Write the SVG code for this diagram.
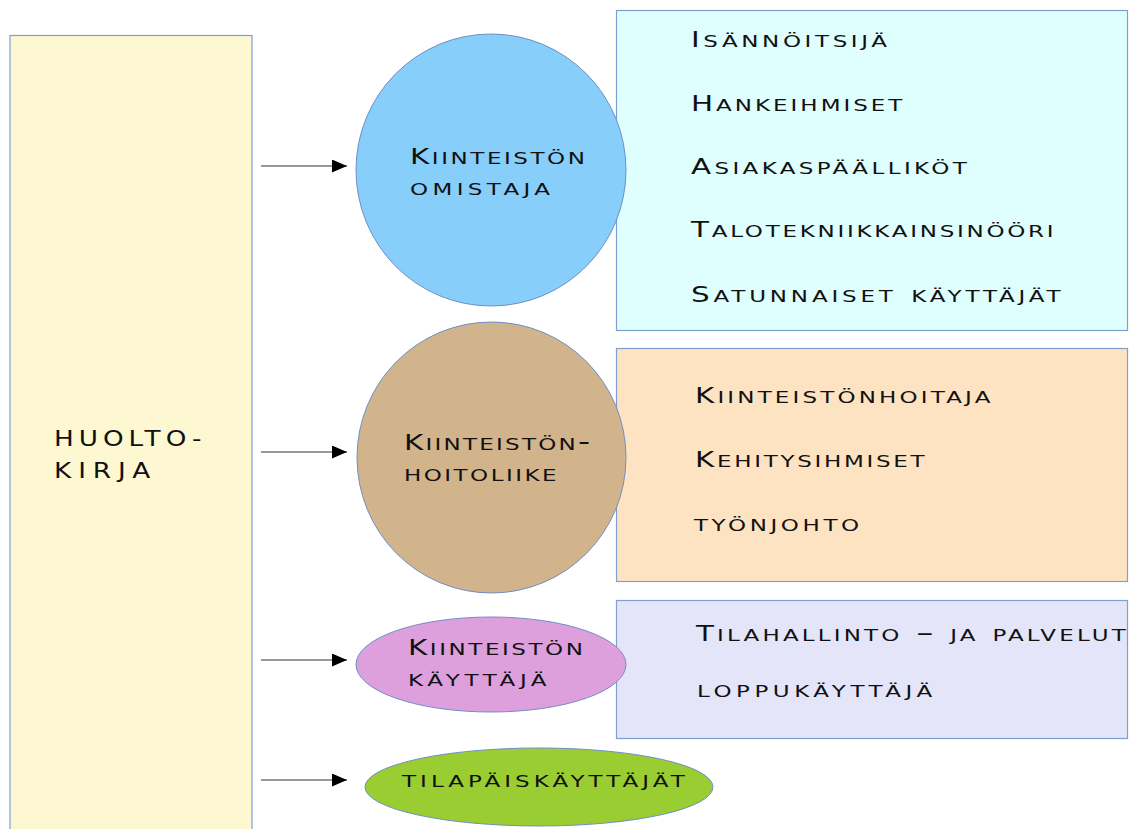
<svg xmlns="http://www.w3.org/2000/svg" width="1129" height="829" viewBox="0 0 1129 829">
<style>
text{font-family:"DejaVu Sans","Liberation Sans",sans-serif;font-size:24px;font-variant:small-caps;fill:#111;}
.c{font-size:21px;}
.box{stroke:#7f9fd0;stroke-width:1.2;}
.node{stroke:#6f8fc4;stroke-width:1;}
.conn{stroke:#333;stroke-width:1.2;fill:none;marker-end:url(#arr);}
</style>
<defs>
<marker id="arr" markerUnits="userSpaceOnUse" markerWidth="16" markerHeight="14" refX="15" refY="6.5" orient="auto">
<path d="M0,0 L15,6.5 L0,13 z" fill="#000"/>
</marker>
</defs>
<rect width="1129" height="829" fill="#fff"/>
<g id="huoltokirja">
<rect class="box" x="10" y="35.5" width="242" height="800" fill="#fdf8d1"/>
<text class="c" transform="translate(54,446) scale(1.25,1)" textLength="118" lengthAdjust="spacing">HUOLTO-</text>
<text class="c" transform="translate(54,478) scale(1.25,1)" textLength="77" lengthAdjust="spacing">KIRJA</text>
</g>
<g id="omistaja-list">
<rect class="box" x="616.5" y="10.5" width="511" height="320" fill="#dffefe"/>
<text transform="translate(691,47) scale(1.4,1)" textLength="140" lengthAdjust="spacing"><tspan class="c">I</tspan>sännöitsijä</text>
<text transform="translate(691,111) scale(1.4,1)" textLength="151" lengthAdjust="spacing"><tspan class="c">H</tspan>ankeihmiset</text>
<text transform="translate(691,174) scale(1.4,1)" textLength="197" lengthAdjust="spacing"><tspan class="c">A</tspan>siakaspäälliköt</text>
<text transform="translate(691,237) scale(1.4,1)" textLength="259" lengthAdjust="spacing"><tspan class="c">T</tspan>alotekniikkainsinööri</text>
<text transform="translate(691,302) scale(1.4,1)" textLength="264" lengthAdjust="spacing"><tspan class="c">S</tspan>atunnaiset käyttäjät</text>
</g>
<g id="hoitoliike-list">
<rect class="box" x="616.5" y="348.5" width="511" height="233" fill="#fee3c3"/>
<text transform="translate(695,403) scale(1.4,1)" textLength="211" lengthAdjust="spacing"><tspan class="c">K</tspan>iinteistönhoitaja</text>
<text transform="translate(695,467) scale(1.4,1)" textLength="164" lengthAdjust="spacing"><tspan class="c">K</tspan>ehitysihmiset</text>
<text transform="translate(694,531) scale(1.4,1)" textLength="118" lengthAdjust="spacing">työnjohto</text>
</g>
<g id="kayttaja-list">
<rect class="box" x="616.5" y="600.5" width="511" height="138" fill="#e5e5f9"/>
<text transform="translate(696,641) scale(1.4,1)" textLength="307" lengthAdjust="spacing"><tspan class="c">T</tspan>ilahallinto – ja palvelut</text>
<text transform="translate(697,697) scale(1.4,1)" textLength="168" lengthAdjust="spacing">loppukäyttäjä</text>
</g>
<g id="omistaja">
<ellipse class="node" cx="491" cy="170" rx="135" ry="136" fill="#87cefa"/>
<text transform="translate(410,164) scale(1.4,1)" textLength="125" lengthAdjust="spacing"><tspan class="c">K</tspan>iinteistön</text>
<text transform="translate(410,195) scale(1.4,1)" textLength="100" lengthAdjust="spacing">omistaja</text>
</g>
<g id="hoitoliike">
<ellipse class="node" cx="491.5" cy="457.5" rx="134.5" ry="135.5" fill="#d2b48c"/>
<text transform="translate(404,450) scale(1.4,1)" textLength="133" lengthAdjust="spacing"><tspan class="c">K</tspan>iinteistön-</text>
<text transform="translate(404,481) scale(1.4,1)" textLength="109" lengthAdjust="spacing">hoitoliike</text>
</g>
<g id="kayttaja">
<ellipse class="node" cx="491" cy="664.5" rx="135" ry="47.5" fill="#dda0dd"/>
<text transform="translate(408,655) scale(1.4,1)" textLength="125" lengthAdjust="spacing"><tspan class="c">K</tspan>iinteistön</text>
<text transform="translate(408,686) scale(1.4,1)" textLength="99" lengthAdjust="spacing">käyttäjä</text>
</g>
<g id="tilapais">
<ellipse class="node" cx="539" cy="787" rx="174" ry="39" fill="#9acd32"/>
<text transform="translate(402,787) scale(1.4,1)" textLength="202" lengthAdjust="spacing">tilapäiskäyttäjät</text>
</g>
<g id="connectors">
<line class="conn" x1="261" y1="166" x2="347" y2="166"/>
<line class="conn" x1="261" y1="452" x2="347" y2="452"/>
<line class="conn" x1="261" y1="660" x2="347" y2="660"/>
<line class="conn" x1="261" y1="780" x2="347" y2="780"/>
</g>
</svg>
